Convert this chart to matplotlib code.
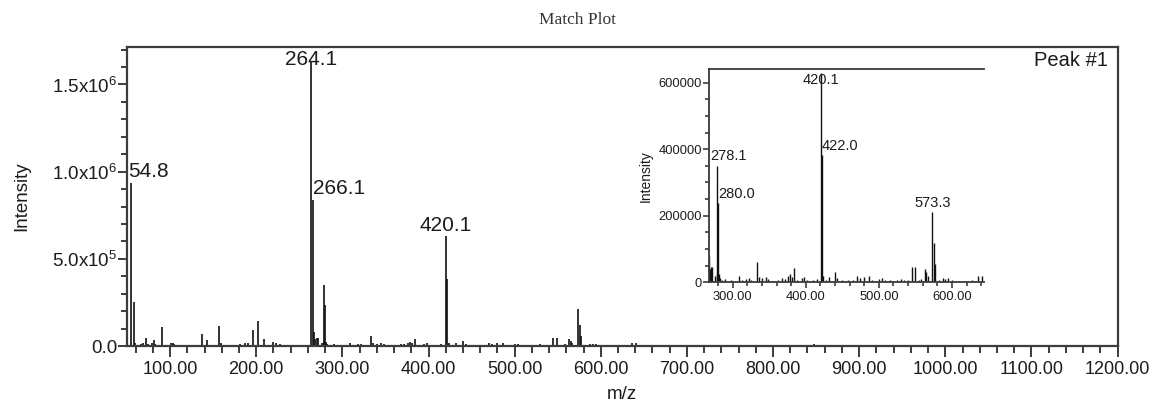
import matplotlib
matplotlib.use("Agg")
import matplotlib.pyplot as plt
from matplotlib.ticker import MultipleLocator, FuncFormatter, FixedLocator

# peak list (m/z, intensity)
mz = [
	54.8, 58.0, 59.5, 63.0, 66.0, 69.0, 72.0, 74.0, 79.0, 81.0, 82.5, 86.0, 90.7,
	101.0, 103.0, 105.0, 120.0, 129.0, 137.4, 143.0, 145.0, 156.7, 158.5, 160.0,
	181.0, 187.0, 191.0, 196.7, 202.5, 209.0, 220.0, 223.0, 227.0, 231.6, 239.0, 243.0, 248.0,
	264.1, 266.1, 267.0, 268.5, 270.5, 271.7, 276.0, 278.1, 279.0, 280.0, 281.0, 282.0, 285.0,
	290.0, 297.0, 300.0, 308.6, 312.0, 318.0, 322.0, 325.0, 332.8, 336.0, 340.0, 345.0, 348.0,
	355.0, 362.0, 368.0, 372.0, 376.0, 378.0, 381.0, 384.0, 388.0, 395.0, 398.0, 402.0, 410.0,
	415.0, 420.1, 422.0, 423.5, 428.0, 432.0, 440.0, 443.0, 450.0, 458.0, 465.0, 470.0, 474.0,
	480.0, 486.0, 490.0, 500.0, 504.0, 508.0, 515.0, 525.0, 530.0, 535.0, 540.0, 545.0, 549.7,
	555.0, 558.0, 563.4, 565.0, 567.0, 573.3, 575.4, 577.0, 582.0, 588.0, 591.0, 595.0, 600.0,
	610.0, 620.0, 628.0, 636.0, 641.0, 650.0, 750.5, 837.0, 848.0
]
intensity = [
	935000, 250000, 20000, 8000, 12000, 15000, 45000, 10000, 15000, 32000, 12000, 8000, 110000,
	15000, 20000, 12000, 5000, 8000, 70000, 35000, 8000, 115000, 20000, 8000,
	10000, 15000, 20000, 90000, 145000, 40000, 22000, 15000, 12000, 8000, 8000, 8000, 6000,
	1630000, 840000, 78000, 40000, 47000, 47000, 20000, 350000, 25000, 237000, 25000, 12000, 8000,
	10000, 8000, 5000, 20000, 8000, 10000, 12000, 8000, 60000, 15000, 12000, 15000, 10000,
	5000, 8000, 12000, 10000, 20000, 25000, 15000, 43000, 8000, 12000, 15000, 8000, 8000,
	10000, 630000, 382000, 20000, 8000, 15000, 30000, 12000, 8000, 6000, 8000, 20000, 12000,
	15000, 20000, 8000, 10000, 12000, 8000, 6000, 8000, 10000, 8000, 6000, 45000, 45000,
	8000, 10000, 40000, 30000, 20000, 210000, 119000, 55000, 8000, 12000, 10000, 12000, 8000,
	5000, 5000, 6000, 20000, 20000, 5000, 8000, 8000, 10000
]

main_labels = [54.8, 264.1, 266.1, 420.1]
inset_labels = [278.1, 280.0, 420.1, 422.0, 573.3]

main_xlim = (50, 1200)
main_ylim = (0, 1.715e6)
inset_xlim = (267.5, 644)
inset_ylim = (0, 640000)

INK = "#1c1c1c"
FRAME = "#3c3c3c"

plt.rcParams["font.family"] = ["Liberation Sans", "DejaVu Sans"]
plt.rcParams["mathtext.fontset"] = "custom"
plt.rcParams["mathtext.rm"] = "Liberation Sans"
plt.rcParams["mathtext.default"] = "regular"


def sci_fmt(v, pos):
	if (v == 0):
		return "0.0"
	exp = 0
	m = v
	while (abs(m) >= 10):
		m /= 10.0
		exp += 1
	return "%.1fx10$^{%d}$" % (m, exp)


def draw_labels(ax, labels, xlim, ylim, size):
	lookup = dict(zip(mz, intensity))
	for lab in labels:
		y = lookup[lab]
		ha = "center"
		x = lab
		dx = 0
		# second member of a close pair sits to the right of its line
		if (any(0 < lab - o < 5 for o in labels)):
			ha = "left"
		elif ((lab - xlim[0]) / (xlim[1] - xlim[0]) < 0.03):
			ha = "left"
			x = xlim[0]
			dx = 1
		if (y / ylim[1] > 0.9):
			ax.annotate("%.1f" % lab, (x, ylim[1]), xytext=(dx, -2.5), textcoords="offset points",
				ha=ha, va="top", fontsize=size, color=INK)
		else:
			ax.annotate("%.1f" % lab, (x, y), xytext=(dx, 4), textcoords="offset points",
				ha=ha, va="baseline", fontsize=size, color=INK)


def style_axes(ax, lw):
	for s in ax.spines.values():
		s.set_color(FRAME)
		s.set_linewidth(lw)


def set_ticks(ax, xlim, xmajor, ymajor, yminor, yfmt):
	start = (int(xlim[0] // xmajor) + 1) * xmajor
	majors = [start + i * xmajor for i in range(int((xlim[1] - start) // xmajor) + 1)]
	ax.xaxis.set_major_locator(FixedLocator(majors))
	ax.xaxis.set_minor_locator(MultipleLocator(20))
	ax.yaxis.set_major_locator(MultipleLocator(ymajor))
	ax.yaxis.set_minor_locator(MultipleLocator(yminor))
	ax.xaxis.set_major_formatter(FuncFormatter(lambda v, p: "%.2f" % v))
	ax.yaxis.set_major_formatter(FuncFormatter(yfmt))


def main():
	fig = plt.figure(figsize=(11.55, 4.09), dpi=100)

	ax = fig.add_axes([0.1100, 0.1540, 0.8576, 0.7311])
	ax.vlines(mz, 0, intensity, color="#111111", linewidth=1.2)
	set_ticks(ax, main_xlim, 100, 500000, 100000, sci_fmt)
	ax.set_xlim(*main_xlim)
	ax.set_ylim(*main_ylim)
	style_axes(ax, 1.6)

	ax.tick_params(axis="x", which="major", direction="out", length=8, width=1.4, color=FRAME,
		labelsize=13, labelcolor=INK, pad=3)
	ax.tick_params(axis="x", which="minor", direction="out", length=5, width=1.4, color=FRAME)
	ax.tick_params(axis="y", which="major", direction="out", length=6.5, width=1.4, color=FRAME,
		labelsize=13.5, labelcolor=INK, pad=0.5)
	ax.tick_params(axis="y", which="minor", direction="out", length=4.3, width=1.4, color=FRAME)

	ax.set_xlabel("m/z", fontsize=13.5, color=INK)
	ax.xaxis.set_label_coords(0.5, -0.135)
	ax.set_ylabel("Intensity", fontsize=13.5, color=INK)
	ax.yaxis.set_label_coords(-0.098, 0.5)

	ax.text(0.990, 0.985, "Peak #1", transform=ax.transAxes, ha="right", va="top",
		fontsize=14.5, color=INK)

	draw_labels(ax, main_labels, main_xlim, main_ylim, 15)

	ins = fig.add_axes([0.6139, 0.3098, 0.2381, 0.5208])
	ins.vlines(mz, 0, intensity, color="#111111", linewidth=1.0)
	set_ticks(ins, inset_xlim, 100, 200000, 50000, lambda v, p: "%d" % v)
	ins.set_xlim(*inset_xlim)
	ins.set_ylim(*inset_ylim)
	style_axes(ins, 1.3)
	ins.spines["right"].set_visible(False)

	ins.tick_params(axis="x", which="major", direction="out", length=4.5, width=1.2, color=FRAME,
		labelsize=9.3, labelcolor=INK, pad=2)
	ins.tick_params(axis="x", which="minor", direction="out", length=3, width=1.2, color=FRAME)
	ins.tick_params(axis="y", which="major", direction="out", length=4.5, width=1.2, color=FRAME,
		labelsize=9.3, labelcolor=INK, pad=0.5)
	ins.tick_params(axis="y", which="minor", direction="out", length=3, width=1.2, color=FRAME)

	ins.set_ylabel("Intensity", fontsize=10, color=INK)
	ins.yaxis.set_label_coords(-0.205, 0.5)

	draw_labels(ins, inset_labels, inset_xlim, inset_ylim, 10.5)

	fig.text(0.5, 1 - 20 / 409, "Match Plot", ha="center", va="center",
		family=["Liberation Serif", "DejaVu Serif"], fontsize=12.5, color="#333333")

	fig.savefig("out.png", dpi=100)


if (__name__ == "__main__"):
	main()
